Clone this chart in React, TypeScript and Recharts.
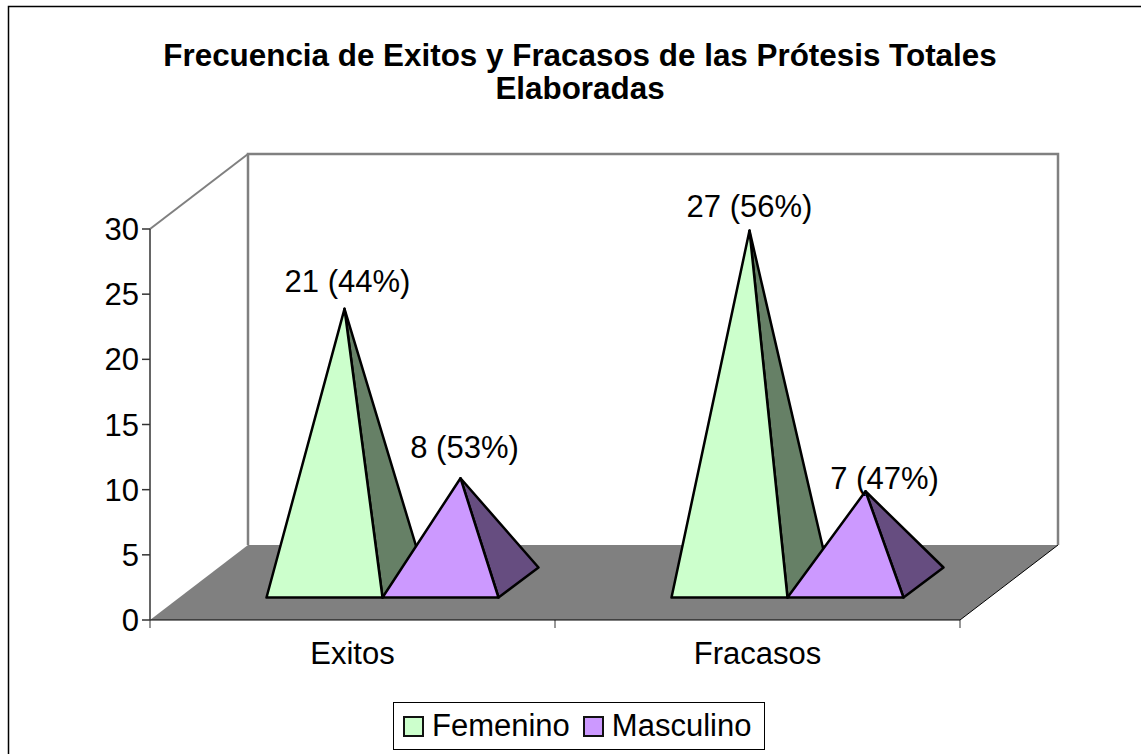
import { BarChart, Bar, XAxis, YAxis, Legend, LabelList, Customized } from 'recharts';

const categories = ['Exitos', 'Fracasos'];
const femenino = [21, 27];
const masculino = [8, 7];
const femeninoLabels = ['21 (44%)', '27 (56%)'];
const masculinoLabels = ['8 (53%)', '7 (47%)'];
const yTicks = [0, 5, 10, 15, 20, 25, 30];

const data = categories.map((name, i) => ({
  name,
  Femenino: femenino[i],
  Masculino: masculino[i],
}));

const FONT = '"Liberation Sans", Arial, sans-serif';
const FONT_SIZE = 31;
const WIDTH = 1141;
const HEIGHT = 754;

// plot box of the front plane
const LEFT = 150;
const RIGHT = 960;
const TOP = 229;
const BOTTOM = 620;

// how far the back wall is pushed away from the front plane
const DEPTH_X = 98;
const DEPTH_Y = 75;

// where the pyramids stand on the floor and how deep their base is
const BASE_X = 29.5;
const BASE_Y = 22.5;
const PYR_DX = 40;
const PYR_DY = 30;

const COLORS = {
  Femenino: { face: '#CCFFCC', side: '#668066' },
  Masculino: { face: '#CC99FF', side: '#664D80' },
};

// excel moved the labels around by hand, so nudge each one from its apex
const femeninoNudge = [{ dx: 3, dy: -27 }, { dx: 0, dy: -24 }];
const masculinoNudge = [{ dx: 4, dy: -31 }, { dx: 19, dy: -13 }];

function Pyramid(props: any) {
  const { x, y, width, height, colors } = props;
  const yb = y + height - BASE_Y;
  const xl = x + BASE_X;
  const xr = xl + width;
  const apexX = xl + width / 2 + PYR_DX / 2;
  const apexY = y - BASE_Y - PYR_DY / 2;
  return (
    <g stroke="#000" strokeWidth={2.5} strokeLinejoin="round">
      <polygon
        points={`${xr},${yb} ${xr + PYR_DX},${yb - PYR_DY} ${apexX},${apexY}`}
        fill={colors.side}
      />
      <polygon points={`${xl},${yb} ${xr},${yb} ${apexX},${apexY}`} fill={colors.face} />
    </g>
  );
}

function pyramidLabel(labels: string[], nudge: { dx: number; dy: number }[]) {
  return (props: any) => {
    const { x, y, width, index } = props;
    const cx = x + BASE_X + width / 2 + PYR_DX / 2 + nudge[index].dx;
    const cy = y - BASE_Y - PYR_DY / 2 + nudge[index].dy;
    return (
      <text x={cx} y={cy} textAnchor="middle" dominantBaseline="central" fontSize={FONT_SIZE} fontFamily={FONT} fill="#000">
        {labels[index]}
      </text>
    );
  };
}

function Walls() {
  const backL = LEFT + DEPTH_X;
  const backR = RIGHT + DEPTH_X;
  const backT = TOP - DEPTH_Y;
  const backB = BOTTOM - DEPTH_Y;
  const band = (RIGHT - LEFT) / categories.length;
  return (
    <g>
      {/* outer frame only shows on the left and top, the picture crops the rest */}
      <polyline points={`8.5,${HEIGHT} 8.5,6.5 ${WIDTH},6.5`} fill="none" stroke="#000" strokeWidth={1.5} />
      <polygon
        points={`${LEFT},${BOTTOM} ${backL},${backB} ${backR},${backB} ${RIGHT},${BOTTOM}`}
        fill="#808080"
      />
      <line x1={RIGHT} y1={BOTTOM} x2={backR} y2={backB} stroke="#000" strokeWidth={1} />
      <line x1={LEFT} y1={TOP} x2={backL} y2={backT} stroke="#808080" strokeWidth={2} />
      <polyline
        points={`${backL},${backB} ${backL},${backT} ${backR},${backT} ${backR},${backB}`}
        fill="none"
        stroke="#808080"
        strokeWidth={2.5}
      />
      {categories.concat('').map((c, i) => (
        <line
          key={i}
          x1={LEFT + band * i}
          x2={LEFT + band * i}
          y1={BOTTOM}
          y2={BOTTOM + 8}
          stroke="#333"
          strokeWidth={1}
        />
      ))}
      <text fontFamily={FONT} fontWeight="bold" fontSize={31.4} textAnchor="middle" fill="#000">
        <tspan x={580} y={66}>Frecuencia de Exitos y Fracasos de las Prótesis Totales</tspan>
        <tspan x={580} y={99}>Elaboradas</tspan>
      </text>
    </g>
  );
}

function LegendBox({ payload }: any) {
  return (
    <div
      style={{
        boxSizing: 'border-box',
        width: 372,
        height: 48,
        border: '1px solid #000',
        background: '#fff',
        display: 'flex',
        alignItems: 'center',
        paddingLeft: 9,
        fontFamily: FONT,
        fontSize: FONT_SIZE,
        color: '#000',
      }}
    >
      {(payload || []).map((p: any) => (
        <span key={p.value} style={{ display: 'flex', alignItems: 'center', marginRight: 13 }}>
          <span
            style={{
              boxSizing: 'border-box',
              width: 21,
              height: 21,
              border: '2px solid #111',
              background: p.color,
              marginRight: 8,
            }}
          />
          {p.value}
        </span>
      ))}
    </div>
  );
}

export default function App() {
  return (
    <div style={{ position: 'absolute', left: 0, top: 0, width: WIDTH, height: HEIGHT, background: '#fff' }}>
      <BarChart
        width={WIDTH}
        height={HEIGHT}
        data={data}
        barSize={116}
        barGap={0}
        margin={{ top: TOP, right: WIDTH - RIGHT, bottom: HEIGHT - BOTTOM - 60, left: LEFT - 60 }}
      >
        <Customized component={Walls} />
        <XAxis
          dataKey="name"
          height={60}
          tickLine={false}
          tickMargin={16}
          stroke="#000"
          tick={{ fontSize: FONT_SIZE, fontFamily: FONT, fill: '#000' }}
        />
        <YAxis
          width={60}
          domain={[0, 30]}
          ticks={yTicks}
          interval={0}
          tickSize={8}
          tickMargin={3}
          stroke="#333"
          strokeWidth={1.5}
          tick={{ fontSize: FONT_SIZE, fontFamily: FONT, fill: '#000' }}
        />
        <Legend
          layout="horizontal"
          verticalAlign="middle"
          align="center"
          wrapperStyle={{ position: 'absolute', left: 393, top: 702, width: 372, height: 48 }}
          content={<LegendBox />}
        />
        <Bar
          dataKey="Femenino"
          fill={COLORS.Femenino.face}
          isAnimationActive={false}
          shape={<Pyramid colors={COLORS.Femenino} />}
        >
          <LabelList dataKey="Femenino" content={pyramidLabel(femeninoLabels, femeninoNudge)} />
        </Bar>
        <Bar
          dataKey="Masculino"
          fill={COLORS.Masculino.face}
          isAnimationActive={false}
          shape={<Pyramid colors={COLORS.Masculino} />}
        >
          <LabelList dataKey="Masculino" content={pyramidLabel(masculinoLabels, masculinoNudge)} />
        </Bar>
      </BarChart>
    </div>
  );
}
